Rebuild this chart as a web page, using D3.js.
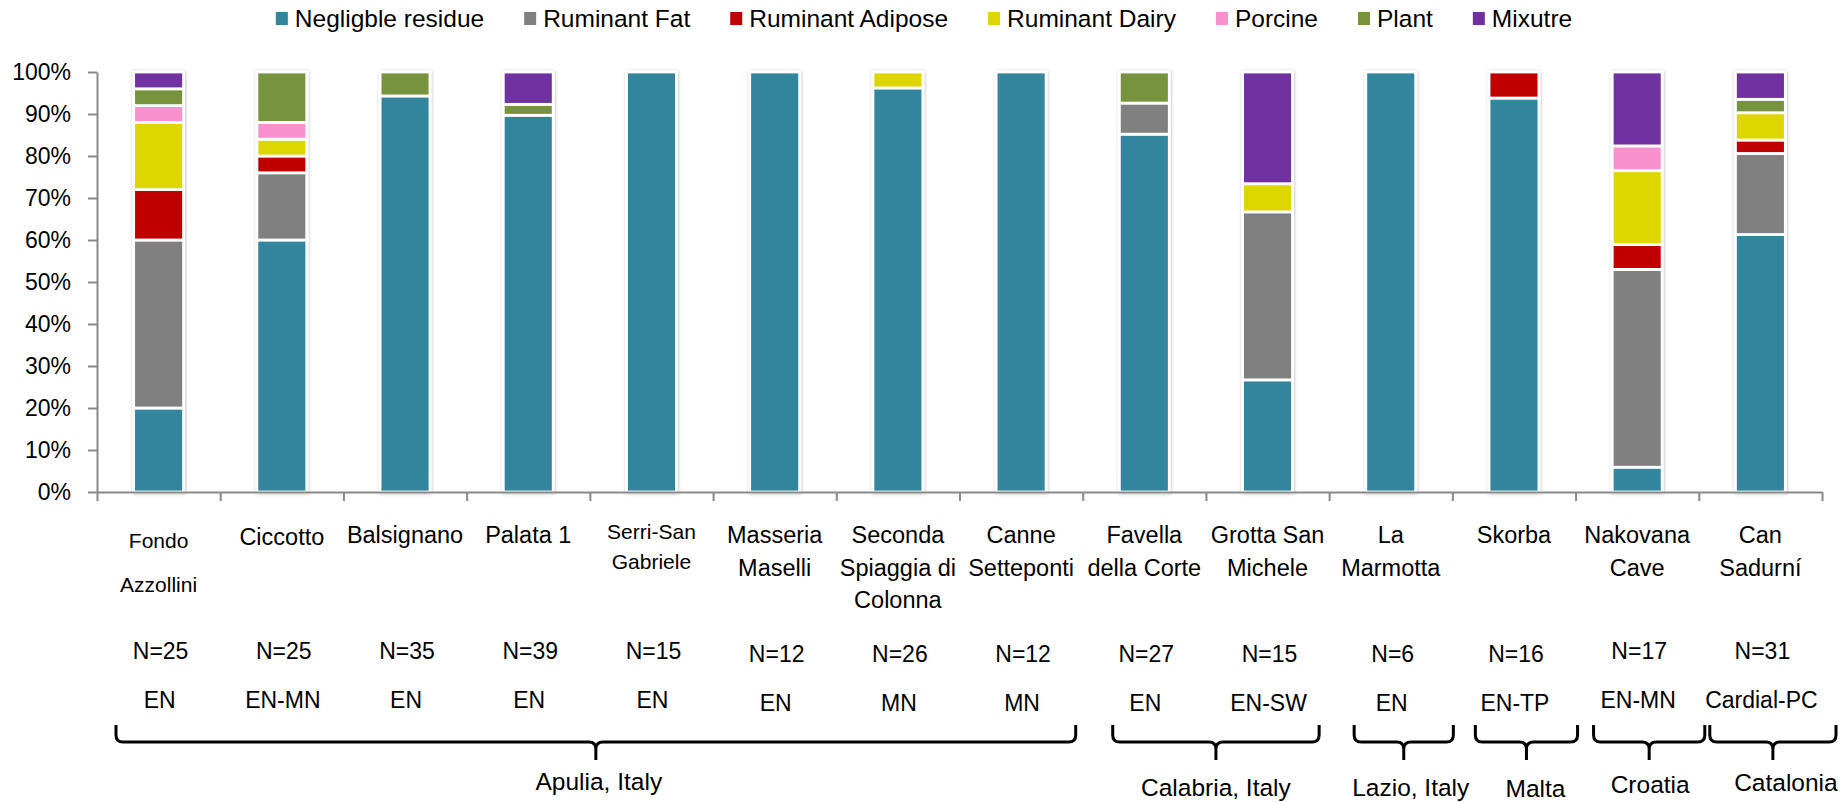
<!DOCTYPE html>
<html><head><meta charset="utf-8">
<script src="https://cdn.jsdelivr.net/npm/d3@7"></script>
<style>
html,body{margin:0;padding:0;background:#fff;}
svg text{font-family:"Liberation Sans",Arial,sans-serif;fill:#000;}
</style></head>
<body><svg id="c" width="1840" height="802"></svg>
<script>
const categories = ["Fondo Azzollini","Ciccotto","Balsignano","Palata 1","Serri-San Gabriele","Masseria Maselli","Seconda Spiaggia di Colonna","Canne Setteponti","Favella della Corte","Grotta San Michele","La Marmotta","Skorba","Nakovana Cave","Can Sadurní"];
const categoryLines = [["Fondo","Azzollini"],["Ciccotto"],["Balsignano"],["Palata 1"],["Serri-San","Gabriele"],["Masseria","Maselli"],["Seconda","Spiaggia di","Colonna"],["Canne","Setteponti"],["Favella","della Corte"],["Grotta San","Michele"],["La","Marmotta"],["Skorba"],["Nakovana","Cave"],["Can","Sadurní"]];
const sampleSizes = ["N=25","N=25","N=35","N=39","N=15","N=12","N=26","N=12","N=27","N=15","N=6","N=16","N=17","N=31"];
const periods = ["EN","EN-MN","EN","EN","EN","EN","MN","MN","EN","EN-SW","EN","EN-TP","EN-MN","Cardial-PC"];
const seriesNames = ["Negligble residue","Ruminant Fat","Ruminant Adipose","Ruminant Dairy","Porcine","Plant","Mixutre"];
const negligible      = [20, 60, 94.3, 89.7, 100, 100, 96.2, 100, 85.2, 26.7, 100, 93.8, 5.9, 61.3];
const ruminantFat     = [40, 16, 0, 0, 0, 0, 0, 0, 7.4, 40, 0, 0, 47.1, 19.3];
const ruminantAdipose = [12, 4, 0, 0, 0, 0, 0, 0, 0, 0, 0, 6.2, 5.9, 3.2];
const ruminantDairy   = [16, 4, 0, 0, 0, 0, 3.8, 0, 0, 6.7, 0, 0, 17.6, 6.5];
const porcine         = [4, 4, 0, 0, 0, 0, 0, 0, 0, 0, 0, 0, 5.9, 0];
const plant           = [4, 12, 5.7, 2.6, 0, 0, 0, 0, 7.4, 0, 0, 0, 0, 3.2];
const mixture         = [4, 0, 0, 7.7, 0, 0, 0, 0, 0, 26.6, 0, 0, 17.6, 6.5];
const yTicks = [0,10,20,30,40,50,60,70,80,90,100];
const regions = [
  {name:"Apulia, Italy", from:0, to:7},
  {name:"Calabria, Italy", from:8, to:9},
  {name:"Lazio, Italy", from:10, to:10},
  {name:"Malta", from:11, to:11},
  {name:"Croatia", from:12, to:12},
  {name:"Catalonia", from:13, to:13}
];
const colors = ["#31859C","#808080","#C00000","#DDD600","#F991CF","#77933C","#7030A0"];

// layout (pixel insets for braces, label offsets)
const braceInset = [[19,-7],[30,-10],[25,1],[23,2],[18,6],[11,14]];
const regionLabelDx = [3,0,7,9,1,13];
const regionLabelY = [790,796,796,797,793,791];

const seriesData = [negligible,ruminantFat,ruminantAdipose,ruminantDairy,porcine,plant,mixture];
const rows = categories.map((c,i)=>{const r={cat:c}; seriesNames.forEach((s,k)=>r[s]=seriesData[k][i]); return r;});

const svg = d3.select("#c");
const L=97, R=1822, T=72, B=492;
const x = d3.scaleBand().domain(categories).range([L,R]).padding(0);
const xi = d3.scaleLinear().domain([0,categories.length]).range([L,R]);
const y = d3.scaleLinear().domain([0,100]).range([B,T]);
const color = d3.scaleOrdinal().domain(seriesNames).range(colors);

const defs = svg.append("defs");
const f = defs.append("filter").attr("id","sh").attr("x","-20%").attr("y","-5%").attr("width","140%").attr("height","110%");
f.append("feDropShadow").attr("dx",0.5).attr("dy",0.5).attr("stdDeviation",1.6).attr("flood-color","#000").attr("flood-opacity",0.28);

// bars
const stack = d3.stack().keys(seriesNames);
const stacked = stack(rows);
const bw = x.bandwidth()*0.405;
const gBars = svg.append("g").attr("filter","url(#sh)");
stacked.forEach(layer=>{
  gBars.selectAll(null).data(layer.filter(d=>d[1]-d[0]>0)).enter().append("rect")
    .attr("x",d=>x(d.data.cat)+x.bandwidth()/2-bw/2)
    .attr("width",bw)
    .attr("y",d=>y(Math.min(100,d[1])))
    .attr("height",d=>y(d[0])-y(Math.min(100,d[1])))
    .attr("fill",color(layer.key))
    .attr("stroke","#fff").attr("stroke-width",2.8);
});

// y axis
const ya = svg.append("g").attr("transform",`translate(${L},0)`)
  .call(d3.axisLeft(y).tickValues(yTicks).tickFormat(d=>d+"%").tickSize(9).tickSizeOuter(0).tickPadding(17));
ya.selectAll("line,path").attr("stroke","#898989").attr("stroke-width",2);
ya.selectAll("text").attr("font-size",23).attr("font-family","Liberation Sans, Arial, sans-serif").attr("fill","#000");

// x axis (boundary ticks)
const xa = svg.append("g").attr("transform",`translate(0,${B})`)
  .call(d3.axisBottom(xi).tickValues(d3.range(0,categories.length+1)).tickFormat("").tickSize(9).tickSizeOuter(0));
xa.selectAll("line,path").attr("stroke","#898989").attr("stroke-width",2);

// category labels
const cx = c=>x(c)+x.bandwidth()/2;
const small = new Set([0,4]);
categoryLines.forEach((lines,i)=>{
  const fs = small.has(i)?21:23.5;
  const step = i===0?44:(i===4?30:32.5);
  const y0 = i===0?548:(i===4?539:(i===1?545:543));
  lines.forEach((ln,j)=>{
    svg.append("text").attr("x",cx(categories[i])).attr("y",y0+j*step)
      .attr("text-anchor","middle").attr("font-size",fs).text(ln);
  });
  const off = (i>=5 && i<=11)?3:0;
  svg.append("text").attr("x",cx(categories[i])+2).attr("y",659+off).attr("text-anchor","middle").attr("font-size",23).text(sampleSizes[i]);
  svg.append("text").attr("x",cx(categories[i])+1).attr("y",708+off).attr("text-anchor","middle").attr("font-size",23).text(periods[i]);
});

// braces
const ytop=725, ybar=742, ystem=760, r=7;
regions.forEach((g,k)=>{
  const x0 = xi(g.from)+braceInset[k][0];
  const x1 = xi(g.to+1)+braceInset[k][1];
  const xc = (x0+x1)/2;
  const p = d3.path();
  p.moveTo(x0,ytop); p.lineTo(x0,ybar-r); p.quadraticCurveTo(x0,ybar,x0+r,ybar);
  p.lineTo(xc-r,ybar); p.quadraticCurveTo(xc,ybar,xc,ybar+r); p.lineTo(xc,ystem);
  p.moveTo(xc,ybar+r); p.quadraticCurveTo(xc,ybar,xc+r,ybar);
  p.lineTo(x1-r,ybar); p.quadraticCurveTo(x1,ybar,x1,ybar-r); p.lineTo(x1,ytop);
  svg.append("path").attr("d",p.toString()).attr("fill","none").attr("stroke","#000").attr("stroke-width",3);
  svg.append("text").attr("x",xc+regionLabelDx[k]).attr("y",regionLabelY[k]).attr("text-anchor","middle").attr("font-size",24.5).text(g.name);
});

// legend (flow layout, centered)
const lg = svg.append("g");
let cur = 0;
seriesNames.forEach(s=>{
  const g = lg.append("g");
  g.append("rect").attr("x",0).attr("y",12).attr("width",12).attr("height",13).attr("fill",color(s));
  const t = g.append("text").attr("x",19).attr("y",26.5).attr("font-size",24.5).text(s);
  const w = 19 + t.node().getComputedTextLength();
  g.attr("transform",`translate(${cur},0)`);
  cur += w + 40;
});
const total = cur-40;
lg.attr("transform",`translate(${924-total/2},0)`);
</script></body></html>
